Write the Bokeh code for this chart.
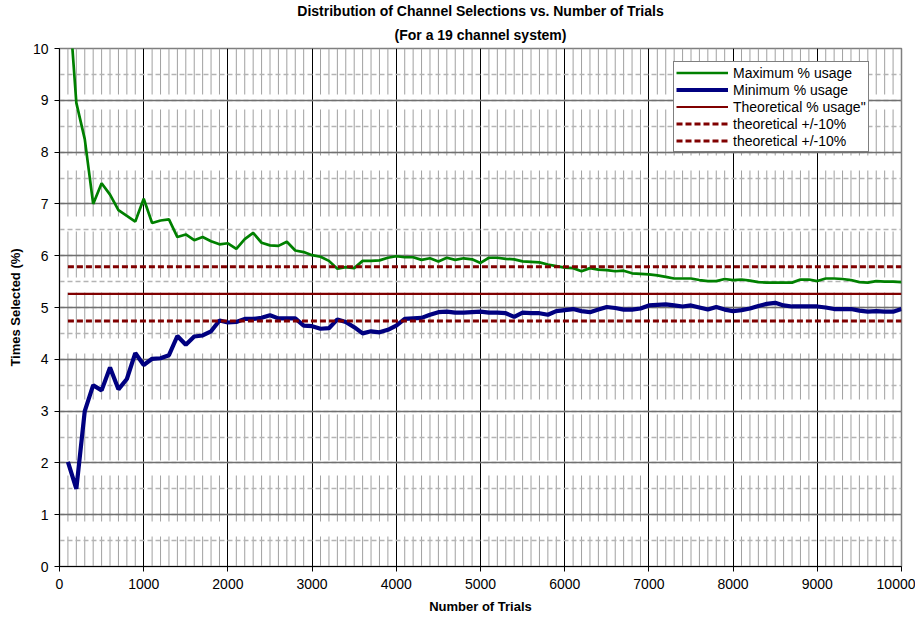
from bokeh.plotting import figure
from bokeh.models import Range1d, SingleIntervalTicker, Title, Legend, LegendItem, ColumnDataSource
from bokeh.embed import file_html
from bokeh.resources import INLINE

# ---------------- data ----------------
trials = list(range(100, 10001, 100))

max_usage = [
    11.2, 8.95, 8.25, 7.00, 7.40, 7.18, 6.88, 6.77, 6.66, 7.10,
    6.63, 6.68, 6.70, 6.36, 6.41, 6.30, 6.36, 6.28, 6.22, 6.24,
    6.13, 6.32, 6.44, 6.25, 6.20, 6.19, 6.27, 6.10, 6.07, 6.01,
    5.98, 5.90, 5.75, 5.78, 5.76, 5.90, 5.90, 5.91, 5.96, 5.99,
    5.97, 5.97, 5.92, 5.95, 5.89, 5.96, 5.92, 5.95, 5.93, 5.86,
    5.96, 5.96, 5.94, 5.93, 5.89, 5.88, 5.87, 5.83, 5.80, 5.77,
    5.76, 5.70, 5.76, 5.73, 5.72, 5.70, 5.71, 5.66, 5.65, 5.64,
    5.62, 5.59, 5.56, 5.56, 5.56, 5.53, 5.51, 5.51, 5.55, 5.53,
    5.54, 5.52, 5.49, 5.48, 5.48, 5.48, 5.48, 5.54, 5.54, 5.51,
    5.56, 5.56, 5.55, 5.53, 5.49, 5.48, 5.51, 5.50, 5.50, 5.49,
]

min_usage = [
    2.02, 1.50, 3.00, 3.50, 3.40, 3.84, 3.42, 3.62, 4.12, 3.89,
    4.01, 4.02, 4.08, 4.45, 4.28, 4.44, 4.46, 4.54, 4.75, 4.71,
    4.72, 4.78, 4.78, 4.80, 4.85, 4.79, 4.79, 4.79, 4.65, 4.64,
    4.59, 4.60, 4.77, 4.72, 4.62, 4.50, 4.54, 4.52, 4.57, 4.65,
    4.78, 4.79, 4.80, 4.86, 4.91, 4.92, 4.90, 4.90, 4.91, 4.92,
    4.90, 4.90, 4.89, 4.82, 4.90, 4.89, 4.89, 4.86, 4.93, 4.95,
    4.97, 4.93, 4.91, 4.96, 5.01, 4.99, 4.96, 4.96, 4.98, 5.04,
    5.05, 5.06, 5.04, 5.02, 5.04, 5.00, 4.96, 5.01, 4.96, 4.93,
    4.95, 4.98, 5.03, 5.07, 5.09, 5.04, 5.02, 5.02, 5.02, 5.02,
    5.00, 4.97, 4.97, 4.97, 4.94, 4.92, 4.93, 4.92, 4.92, 4.97,
]

theoretical_pct = 5.263
theoretical_hi = 5.789
theoretical_lo = 4.737

x_ticks_minor = [t for t in range(100, 10000, 100) if t % 1000 != 0]

title_line1 = "Distribution of Channel Selections vs. Number of Trials"
title_line2 = "(For a 19 channel system)"
x_label = "Number of Trials"
y_label = "Times Selected (%)"
legend_labels = ["Maximum % usage", "Minimum % usage", "Theoretical % usage\"",
                 "theoretical +/-10%", "theoretical +/-10%"]

FONT = "Liberation Sans"

# ---------------- figure ----------------
p = figure(width=915, height=618, output_backend="svg", toolbar_location=None,
           x_range=Range1d(0, 10000), y_range=Range1d(0, 10),
           min_border_left=59, min_border_right=14, min_border_top=48, min_border_bottom=52)
p.background_fill_color = "white"
p.border_fill_color = "white"
p.outline_line_color = "#7f7f7f"
p.outline_line_width = 1.5

# titles (added nearest-first)
p.add_layout(Title(text=title_line2, align="center", text_font=FONT, text_font_size="14px",
                   text_font_style="bold", text_color="black", standoff=12,
                   text_line_height=1.0), "above")
p.add_layout(Title(text=title_line1, align="center", text_font=FONT, text_font_size="14px",
                   text_font_style="bold", text_color="black", standoff=0,
                   text_line_height=1.0), "above")

# axes
p.xaxis.ticker = SingleIntervalTicker(interval=1000, num_minor_ticks=0)
p.yaxis.ticker = SingleIntervalTicker(interval=1, num_minor_ticks=2)
for ax in (p.xaxis[0], p.yaxis[0]):
    ax.axis_line_color = "black"
    ax.axis_line_width = 1
    ax.major_tick_line_color = "black"
    ax.major_tick_out = 5
    ax.major_tick_in = 0
    ax.minor_tick_line_color = None
    ax.major_label_text_font = FONT
    ax.major_label_text_font_size = "14px"
    ax.major_label_text_color = "black"
    ax.axis_label_text_font = FONT
    ax.axis_label_text_font_size = "13px"
    ax.axis_label_text_font_style = "bold"
    ax.axis_label_text_color = "black"
p.xaxis.axis_label = x_label
p.yaxis.axis_label = y_label
p.xaxis.major_label_standoff = 7
p.xaxis.axis_label_standoff = 7
p.yaxis.major_label_standoff = 6
p.yaxis.axis_label_standoff = 7

# grids
p.xgrid.grid_line_color = "black"
p.xgrid.grid_line_width = 1
p.ygrid.grid_line_color = "#707070"
p.ygrid.grid_line_width = 1.5
p.ygrid.minor_grid_line_color = "#b4b4b4"
p.ygrid.minor_grid_line_width = 1.5
p.ygrid.minor_grid_line_dash = "5 3"

# minor vertical gridlines (long-dash, drawn from top down)
minor_src = ColumnDataSource(dict(x=x_ticks_minor))
p.segment(x0="x", y0=10, x1="x", y1=0, source=minor_src, line_color="#a0a0a0",
          line_width=1, line_dash="46 15", level="underlay")

# series
r_max = p.line(trials, max_usage, line_color="#008000", line_width=2.7)
r_min = p.line(trials, min_usage, line_color="#000080", line_width=4.2)
r_th = p.line([trials[0], trials[-1]], [theoretical_pct, theoretical_pct],
              line_color="#800000", line_width=2.2)
r_hi = p.line([trials[0], trials[-1]], [theoretical_hi, theoretical_hi],
              line_color="#800000", line_width=3, line_dash="6 3")
r_lo = p.line([trials[0], trials[-1]], [theoretical_lo, theoretical_lo],
              line_color="#800000", line_width=3, line_dash="6 3")

legend = Legend(items=[LegendItem(label=l, renderers=[r]) for l, r in
                       zip(legend_labels, [r_max, r_min, r_th, r_hi, r_lo])],
                location=(614, 414))
legend.label_text_font = FONT
legend.label_text_font_size = "14px"
legend.label_text_color = "black"
legend.label_height = 17
legend.glyph_height = 17
legend.glyph_width = 52
legend.label_standoff = 5
legend.spacing = 0
legend.padding = 2
legend.margin = 0
legend.border_line_color = "black"
legend.border_line_width = 1
legend.background_fill_color = "white"
legend.background_fill_alpha = 1
p.add_layout(legend, "center")

open("out.html", "w").write(file_html(p, INLINE))
